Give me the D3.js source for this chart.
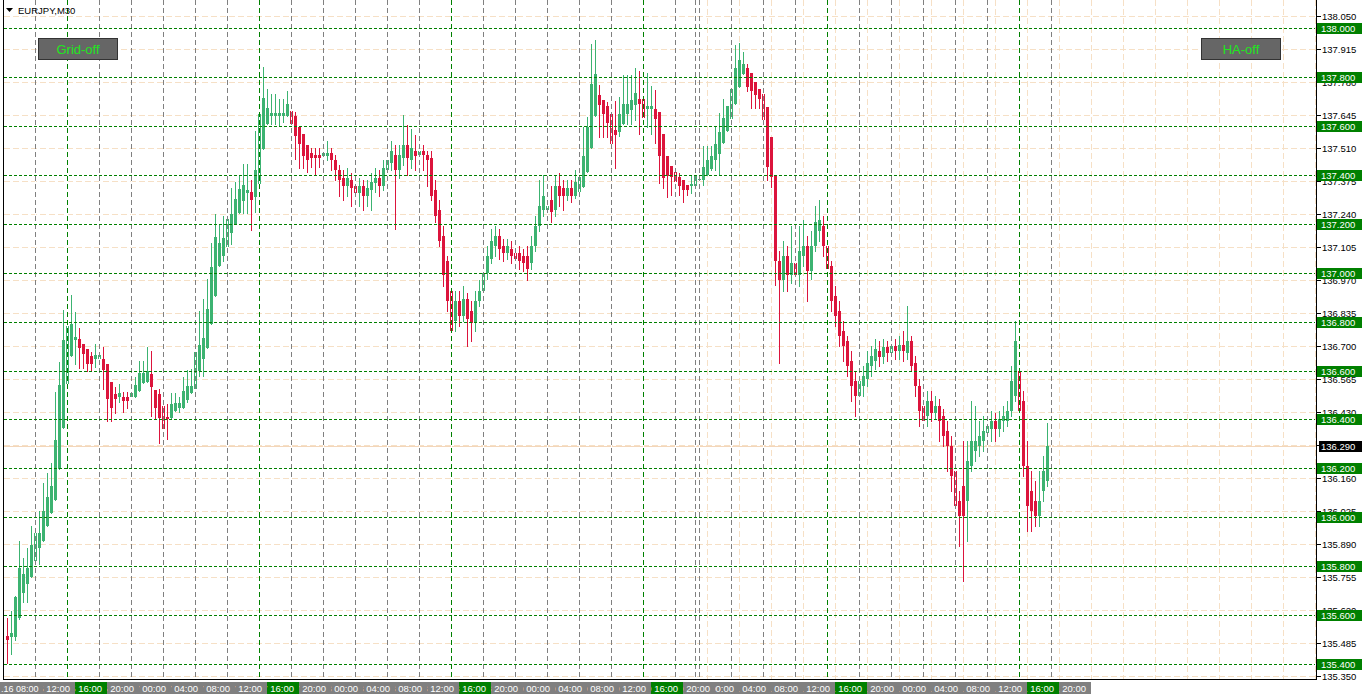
<!DOCTYPE html>
<html><head><meta charset="utf-8">
<script src="https://cdn.jsdelivr.net/npm/d3@7"></script>
<style>html,body{margin:0;padding:0;background:#fff;overflow:hidden}svg{display:block}</style>
</head><body><svg id="c" width="1362" height="700"></svg>
<script>
const symbolTitle = "EURJPY,M30";
const opens = [
135.514,135.511,135.511,135.589,135.692,135.729,135.757,135.821,135.876,135.904,
135.965,136.019,136.072,136.197,136.367,136.545,136.661,136.725,136.729,136.710,
136.688,136.661,136.646,136.646,136.647,136.627,136.555,136.504,136.490,136.493,
136.493,136.490,136.490,136.515,136.548,136.552,136.586,136.520,136.504,136.455,
136.411,136.408,136.433,136.449,136.449,136.481,136.508,136.525,136.600,136.647,
136.693,136.791,136.907,137.026,137.070,137.104,137.162,137.200,137.246,137.293,
137.326,137.329,137.309,137.364,137.507,137.608,137.641,137.641,137.641,137.641,
137.641,137.662,137.640,137.596,137.566,137.521,137.491,137.480,137.480,137.477,
137.477,137.492,137.460,137.419,137.386,137.357,137.378,137.353,137.328,137.353,
137.316,137.337,137.366,137.386,137.353,137.419,137.451,137.480,137.419,137.468,
137.521,137.460,137.500,137.480,137.500,137.480,137.468,137.337,137.255,137.152,
137.050,136.927,136.804,136.886,136.825,136.894,136.845,136.796,136.886,136.927,
137.001,137.058,137.111,137.152,137.111,137.083,137.099,137.083,137.083,137.070,
137.070,137.042,137.111,137.193,137.255,137.255,137.296,137.255,137.357,137.345,
137.316,137.345,137.316,137.330,137.350,137.412,137.510,137.640,137.726,137.708,
137.681,137.648,137.586,137.575,137.607,137.651,137.664,137.685,137.709,137.709,
137.668,137.668,137.671,137.657,137.566,137.476,137.435,137.412,137.391,137.378,
137.360,137.353,137.353,137.380,137.378,137.401,137.425,137.460,137.484,137.530,
137.578,137.630,137.689,137.760,137.815,137.837,137.817,137.780,137.753,137.733,
137.678,137.557,137.395,137.050,136.969,137.070,136.989,137.042,136.989,137.070,
137.111,137.009,137.111,137.173,137.193,137.111,137.029,136.907,136.845,136.763,
136.722,136.641,136.559,136.497,136.538,136.567,136.620,136.641,136.682,136.657,
136.698,136.673,136.702,136.682,136.706,136.673,136.722,136.632,136.538,136.456,
136.415,136.477,136.428,136.456,136.415,136.354,136.292,136.190,136.067,136.128,
136.067,136.210,136.272,136.292,136.313,136.346,136.362,136.395,136.362,136.395,
136.395,136.436,136.497,136.600,136.477,136.210,136.108,136.067,136.006,136.108,136.149];
const highs = [
135.589,135.617,135.680,135.904,135.835,135.876,135.965,135.940,136.026,136.142,
136.183,136.224,136.511,136.636,136.849,136.800,136.909,136.841,136.774,136.710,
136.688,136.677,136.709,136.670,136.698,136.627,136.555,136.534,136.545,136.514,
136.514,136.520,136.575,136.641,136.641,136.695,136.682,136.520,136.525,136.460,
136.463,136.509,136.509,136.493,136.572,136.603,136.607,136.680,136.845,136.893,
136.975,137.121,137.241,137.196,137.234,137.220,137.346,137.371,137.402,137.446,
137.446,137.380,137.578,137.655,137.842,137.750,137.730,137.730,137.709,137.709,
137.742,137.665,137.657,137.600,137.566,137.521,137.511,137.511,137.511,137.511,
137.541,137.509,137.480,137.439,137.419,137.427,137.410,137.386,137.386,137.378,
137.378,137.410,137.427,137.419,137.460,137.509,137.541,137.521,137.521,137.644,
137.603,137.590,137.562,137.541,137.521,137.500,137.500,137.378,137.296,137.193,
137.070,136.969,136.927,136.927,136.948,136.919,136.886,136.927,136.969,137.050,
137.111,137.181,137.193,137.181,137.140,137.140,137.132,137.111,137.111,137.099,
137.111,137.152,137.234,137.378,137.398,137.316,137.357,137.398,137.410,137.378,
137.378,137.378,137.419,137.419,137.596,137.637,137.937,137.954,137.767,137.708,
137.698,137.650,137.701,137.719,137.808,137.808,137.808,137.839,137.824,137.712,
137.817,137.763,137.746,137.657,137.566,137.476,137.435,137.412,137.408,137.378,
137.360,137.401,137.400,137.390,137.517,137.517,137.517,137.596,137.653,137.712,
137.681,137.755,137.930,137.940,137.903,137.855,137.817,137.780,137.753,137.735,
137.678,137.557,137.400,137.090,137.132,137.111,137.193,137.091,137.193,137.214,
137.152,137.173,137.275,137.296,137.234,137.132,137.050,136.948,136.886,136.804,
136.743,136.682,136.600,136.600,136.620,136.682,136.702,136.731,136.722,136.731,
136.722,136.743,136.731,136.743,136.763,136.866,136.743,136.661,136.567,136.497,
136.518,136.518,136.497,136.485,136.444,136.395,136.333,136.231,136.108,136.313,
136.313,136.477,136.456,136.395,136.415,136.436,136.436,136.428,136.436,136.456,
136.477,136.620,136.804,137.017,136.518,136.313,136.190,136.149,136.190,136.251,136.387];
const lows = [
135.405,135.439,135.500,135.585,135.655,135.655,135.757,135.815,135.808,135.904,
135.965,136.019,136.072,136.197,136.367,136.540,136.661,136.629,136.609,136.609,
136.597,136.597,136.613,136.640,136.524,136.395,136.392,136.426,136.470,136.429,
136.449,136.480,136.490,136.515,136.548,136.552,136.415,136.408,136.302,136.360,
136.322,136.408,136.433,136.429,136.449,136.470,136.508,136.520,136.579,136.579,
136.693,136.791,136.907,137.026,137.050,137.100,137.118,137.200,137.246,137.244,
137.244,137.176,137.248,137.360,137.507,137.608,137.610,137.610,137.600,137.616,
137.641,137.605,137.465,137.429,137.429,137.412,137.432,137.398,137.432,137.460,
137.460,137.419,137.378,137.316,137.296,137.316,137.275,137.263,137.275,137.255,
137.275,137.255,137.329,137.316,137.337,137.398,137.419,137.181,137.386,137.439,
137.398,137.427,137.419,137.451,137.419,137.357,137.296,137.206,137.111,136.948,
136.845,136.702,136.763,136.784,136.804,136.702,136.722,136.763,136.866,136.907,
136.976,137.042,137.070,137.058,137.050,137.058,137.042,137.029,137.017,137.009,
136.969,137.017,137.091,137.173,137.234,137.222,137.206,137.234,137.275,137.255,
137.296,137.288,137.304,137.316,137.350,137.412,137.510,137.640,137.555,137.555,
137.555,137.525,137.428,137.558,137.607,137.610,137.610,137.623,137.566,137.630,
137.596,137.566,137.530,137.366,137.348,137.309,137.319,137.353,137.319,137.289,
137.319,137.326,137.350,137.319,137.360,137.401,137.419,137.419,137.405,137.530,
137.578,137.628,137.689,137.760,137.815,137.743,137.674,137.674,137.674,137.620,
137.378,137.350,136.950,136.630,136.927,136.927,136.960,136.845,136.948,137.029,
136.886,136.976,137.091,137.132,137.070,136.989,136.845,136.784,136.702,136.641,
136.579,136.477,136.415,136.436,136.497,136.538,136.579,136.608,136.620,136.632,
136.641,136.641,136.649,136.649,136.641,136.649,136.600,136.497,136.374,136.313,
136.374,136.395,136.403,136.313,136.292,136.190,136.108,135.965,135.883,135.740,
135.904,136.190,136.231,136.251,136.272,136.313,136.313,136.313,136.333,136.354,
136.374,136.415,136.477,136.415,136.169,135.944,135.944,135.965,135.965,136.067,136.128];
const closes = [
135.497,135.528,135.674,135.794,135.767,135.792,135.887,135.937,135.937,136.026,
136.081,136.128,136.317,136.542,136.725,136.784,136.791,136.739,136.691,136.666,
136.629,136.629,136.665,136.665,136.604,136.482,136.449,136.482,136.508,136.477,
136.477,136.509,136.542,136.589,136.589,136.597,136.531,136.445,136.408,136.363,
136.404,136.463,136.466,136.466,136.518,136.538,136.538,136.675,136.706,136.733,
136.852,137.025,137.148,137.121,137.144,137.218,137.241,137.300,137.341,137.361,
137.340,137.296,137.419,137.651,137.715,137.676,137.653,137.653,137.653,137.653,
137.689,137.610,137.559,137.528,137.477,137.460,137.470,137.470,137.470,137.491,
137.491,137.460,137.419,137.378,137.357,137.386,137.345,137.328,137.353,137.316,
137.345,137.370,137.386,137.353,137.427,137.460,137.500,137.419,137.480,137.521,
137.468,137.509,137.476,137.500,137.480,137.460,137.316,137.234,137.132,136.989,
136.886,136.763,136.886,136.825,136.894,136.812,136.796,136.886,136.927,137.001,
137.070,137.132,137.152,137.099,137.083,137.111,137.070,137.058,137.050,137.042,
137.017,137.111,137.193,137.275,137.316,137.275,137.247,137.357,137.316,137.316,
137.345,137.316,137.370,137.391,137.476,137.596,137.771,137.812,137.685,137.648,
137.612,137.528,137.565,137.648,137.689,137.689,137.705,137.735,137.689,137.634,
137.681,137.681,137.630,137.476,137.387,137.394,137.391,137.371,137.357,137.337,
137.337,137.364,137.398,137.382,137.432,137.460,137.476,137.528,137.575,137.634,
137.681,137.753,137.837,137.872,137.855,137.760,137.743,137.726,137.709,137.623,
137.432,137.390,137.050,136.970,137.070,136.989,137.042,136.989,137.091,137.111,
137.009,137.111,137.206,137.214,137.111,137.017,136.886,136.825,136.743,136.702,
136.620,136.538,136.497,136.559,136.579,136.632,136.661,136.690,136.657,136.698,
136.673,136.702,136.682,136.706,136.682,136.722,136.620,136.538,136.436,136.395,
136.477,136.428,136.456,136.395,136.333,136.292,136.169,136.047,136.006,136.006,
136.231,136.313,136.313,136.333,136.354,136.374,136.395,136.362,136.403,136.415,
136.436,136.559,136.722,136.436,136.210,136.047,136.026,136.006,136.067,136.190,136.290];
const priceTicks = [135.350,135.485,135.620,135.755,135.890,136.025,136.160,136.295,136.430,136.565,136.700,136.835,136.970,137.105,137.240,137.375,137.510,137.645,137.780,137.915,138.050];
const levelLines = [135.4,135.6,135.8,136.0,136.2,136.4,136.6,136.8,137.0,137.2,137.4,137.6,137.8,138.0];
const currentPrice = 136.290;
const timeTicks = [-1,7,15,23,31,39,47,55,63,71,79,87,95,103,111,119,127,135,143,151,159,167,172,173,181,189,197,205,213,221,229,237,245,253,261];
const timeLabels = ["08:00","12:00","16:00","20:00","00:00","04:00","08:00","12:00","16:00","20:00","00:00","04:00","08:00","12:00","16:00","20:00","00:00","04:00","08:00","12:00","16:00","20:00","","00:00","04:00","08:00","12:00","16:00","20:00","00:00","04:00","08:00","12:00","16:00","20:00"];
const timeDays = [".16","5","5","5","7","7","7","7","7","7","8","8","8","8","8","8","9","9","9","9","9","9","","1","1","1","1","1","1","1","1","1","1","1","1"];
const buttonLabels = ["Grid-off","HA-off"];

const bull = "#3cb371", bear = "#dc143c";
const svg = d3.select("#c");
const FONT = "'Liberation Sans', Arial, sans-serif";
const x = d3.scaleLinear().domain([0, 260]).range([7.5, 1047.5]);
const y = d3.scaleLinear().domain([135.4, 138.0]).range([664, 28.3]);
const ry = v => Math.round(y(v)) + 0.5;
const idx = d3.range(closes.length);
const plotRight = 1316, plotBottom = 679;

// native pale grid
const gGrid = svg.append("g").attr("shape-rendering","crispEdges");
gGrid.selectAll("line.h").data(priceTicks).join("line")
  .attr("x1",4).attr("x2",plotRight-1).attr("y1",ry).attr("y2",ry)
  .attr("stroke","#f6e0c6").attr("stroke-dasharray","6,3");
const nativeGrid = d3.range(7, 328, 8);
gGrid.selectAll("line.v").data(nativeGrid).join("line")
  .attr("x1",d=>x(d)).attr("x2",d=>x(d)).attr("y1",0).attr("y2",plotBottom)
  .attr("stroke","#f6e0c6").attr("stroke-dasharray","6,3");
gGrid.append("line").attr("x1",4).attr("x2",plotRight-1).attr("y1",ry(currentPrice)).attr("y2",ry(currentPrice))
  .attr("stroke","#f3d6ba");

// candles
const gC = svg.append("g").attr("shape-rendering","crispEdges");
const col = i => closes[i] >= opens[i] ? bull : bear;
gC.selectAll("line").data(idx).join("line")
  .attr("x1",i=>x(i)).attr("x2",i=>x(i))
  .attr("y1",i=>Math.round(y(highs[i]))).attr("y2",i=>Math.round(y(lows[i]))+1)
  .attr("stroke",col);
gC.selectAll("rect").data(idx).join("rect")
  .attr("x",i=>x(i)-1.5).attr("width",3)
  .attr("y",i=>Math.round(y(Math.max(opens[i],closes[i]))))
  .attr("height",i=>Math.max(1, Math.round(y(Math.min(opens[i],closes[i]))) - Math.round(y(Math.max(opens[i],closes[i])))))
  .attr("fill",col);

// custom time lines
const gT = svg.append("g").attr("shape-rendering","crispEdges");
const tIdx = d3.range(timeTicks.length).filter(k => timeTicks[k] >= 0);
const isGreen = k => timeLabels[k]==="16:00";
gT.selectAll("line.bg").data(tIdx).join("line")
  .attr("x1",k=>x(timeTicks[k])).attr("x2",k=>x(timeTicks[k])).attr("y1",0).attr("y2",plotBottom)
  .attr("stroke","#fff");
gT.selectAll("line.fg").data(tIdx).join("line")
  .attr("x1",k=>x(timeTicks[k])).attr("x2",k=>x(timeTicks[k])).attr("y1",0).attr("y2",plotBottom)
  .attr("stroke",k=>isGreen(k) ? "#008000" : "#808080").attr("stroke-dasharray","5,3");

// level lines
const gL = svg.append("g").attr("shape-rendering","crispEdges");
gL.selectAll("line").data(levelLines).join("line")
  .attr("x1",4).attr("x2",plotRight-1).attr("y1",ry).attr("y2",ry)
  .attr("stroke","#008000").attr("stroke-dasharray","3,2");

// frame
const gF = svg.append("g").attr("shape-rendering","crispEdges");
gF.append("line").attr("x1",3.5).attr("x2",3.5).attr("y1",0).attr("y2",plotBottom+1).attr("stroke","#000");
gF.append("line").attr("x1",plotRight+0.5).attr("x2",plotRight+0.5).attr("y1",0).attr("y2",plotBottom+1).attr("stroke","#000");
gF.append("line").attr("x1",3).attr("x2",plotRight+1).attr("y1",plotBottom+0.5).attr("y2",plotBottom+0.5).attr("stroke","#000");

// right axis
const gA = svg.append("g");
gA.selectAll("line").data(priceTicks).join("line").attr("shape-rendering","crispEdges")
  .attr("x1",plotRight).attr("x2",plotRight+5).attr("y1",ry).attr("y2",ry).attr("stroke","#000");
gA.selectAll("text").data(priceTicks).join("text")
  .attr("x",1322).attr("y",d=>y(d)+3.5).attr("font-family",FONT).attr("font-size","9.5px").attr("fill","#000")
  .text(d=>d.toFixed(3));
const gLab = svg.append("g");
levelLines.forEach(v=>{
  gLab.append("rect").attr("x",1317).attr("y",Math.round(y(v))-5).attr("width",45).attr("height",11).attr("fill","#008000");
  gLab.append("text").attr("x",1321).attr("y",Math.round(y(v))+4).attr("font-family",FONT).attr("font-size","9.5px").attr("fill","#fff").text(v.toFixed(3));
});
gLab.append("rect").attr("x",1319).attr("y",Math.round(y(currentPrice))-5).attr("width",43).attr("height",11).attr("fill","#000");
gLab.append("text").attr("x",1321).attr("y",Math.round(y(currentPrice))+4).attr("font-family",FONT).attr("font-size","9.5px").attr("fill","#fff").text(currentPrice.toFixed(3));

// bottom time labels (drawn right to left)
const gB = svg.append("g");
const defs = svg.append("defs");
const order = d3.range(timeTicks.length).reverse().filter(k => timeLabels[k] !== "");
order.forEach(k=>{
  const t = x(timeTicks[k]) - 0.5;
  const first = timeTicks[k] < 0;
  const x0 = first ? 0 : t + 8, x1 = t + 40;
  gB.append("rect").attr("x",x0).attr("y",682).attr("width",x1-x0).attr("height",12).attr("fill",isGreen(k)?"#008000":"#808080");
  if (first) {
    gB.append("text").attr("x",1).attr("y",691.5)
      .attr("font-family",FONT).attr("font-size","9px").attr("fill","#fff").text(timeDays[k]+" "+timeLabels[k]);
  } else {
    defs.append("clipPath").attr("id","cl"+k).append("rect").attr("x",x0).attr("y",682).attr("width",x1-x0).attr("height",12);
    gB.append("text").attr("clip-path","url(#cl"+k+")").attr("x",t+35).attr("y",691.5).attr("text-anchor","end")
      .attr("font-family",FONT).attr("font-size","9.5px").attr("fill","#fff").text(timeDays[k]+" "+timeLabels[k]);
  }
});

// title
svg.append("path").attr("d","M6,8 L13,8 L9.5,12 Z").attr("fill","#000");
svg.append("text").attr("x",18).attr("y",14).attr("font-family",FONT).attr("font-size","9.5px").attr("fill","#000").text(symbolTitle);

// buttons
[[38,buttonLabels[0]],[1201,buttonLabels[1]]].forEach(([bx,lab])=>{
  svg.append("rect").attr("x",bx+0.5).attr("y",38.5).attr("width",79).attr("height",21).attr("fill","#666").attr("stroke","#333").attr("shape-rendering","crispEdges");
  svg.append("text").attr("x",bx+40).attr("y",53.5).attr("text-anchor","middle").attr("font-family",FONT).attr("font-size","13px").attr("fill","#1ee61e").text(lab);
});
</script></body></html>
